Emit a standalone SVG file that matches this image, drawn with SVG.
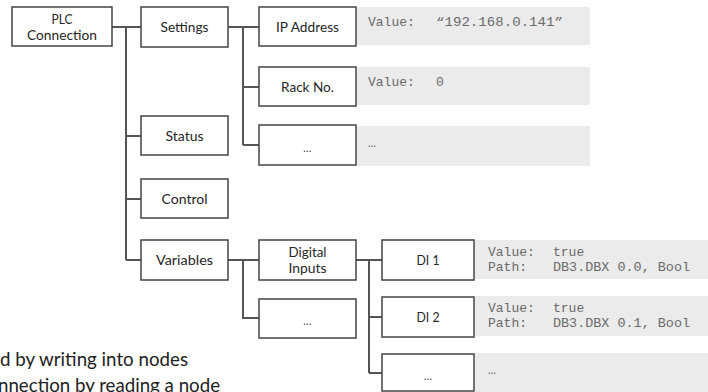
<svg xmlns="http://www.w3.org/2000/svg" width="708" height="392" viewBox="0 0 708 392">
<style>
.box{fill:#fff;stroke:#444;stroke-width:1.5}
.val{fill:#ebebeb}
.lbl{font-family:Lato,"Liberation Sans",sans-serif;font-size:14px;fill:#262626;text-anchor:middle}
.mono{font-family:"Liberation Mono","DejaVu Sans Mono",monospace;font-size:13px;fill:#6a6a6a}
.ell{font-family:Lato,"Liberation Sans",sans-serif;font-size:11px;fill:#444;text-anchor:middle}
.foot{font-family:Lato,"Liberation Sans",sans-serif;font-size:20px;fill:#222}
.conn{fill:none;stroke:#555;stroke-width:2}
</style>
<rect width="708" height="392" fill="#fff"/>
<g id="connectors" class="conn">
<path d="M112,27H141M126,27V260M126,136H141M126,199H141M126,260H141"/>
<path d="M228,27H259M243,27V145M243,87H259M243,145H259"/>
<path d="M228,260H259M243,260V318H259"/>
<path d="M356,260H382M369,260V373M369,317H382M369,373H382"/>
</g>
<g id="values">
<rect class="val" x="357" y="7" width="233" height="38"/>
<text class="mono" x="368" y="26">Value:</text><text class="mono" x="436" y="26" textLength="127" lengthAdjust="spacingAndGlyphs">“192.168.0.141”</text>
<rect class="val" x="357" y="67" width="233" height="38"/>
<text class="mono" x="368" y="86">Value:</text><text class="mono" x="436" y="86">0</text>
<rect class="val" x="357" y="126" width="233" height="40"/>
<text class="mono" x="368" y="147" font-size="9">…</text>
<rect class="val" x="475" y="240" width="233" height="39"/>
<text class="mono" x="488" y="256">Value:</text><text class="mono" x="553" y="256">true</text>
<text class="mono" x="488" y="271">Path:</text><text class="mono" x="553" y="271" textLength="137" lengthAdjust="spacingAndGlyphs">DB3.DBX 0.0, Bool</text>
<rect class="val" x="475" y="296" width="233" height="40"/>
<text class="mono" x="488" y="312">Value:</text><text class="mono" x="553" y="312">true</text>
<text class="mono" x="488" y="327">Path:</text><text class="mono" x="553" y="327" textLength="137" lengthAdjust="spacingAndGlyphs">DB3.DBX 0.1, Bool</text>
<rect class="val" x="475" y="353" width="233" height="40"/>
<text class="mono" x="488" y="374" font-size="9">…</text>
</g>
<g id="plc"><rect class="box" x="12" y="7" width="100" height="39"/><text class="lbl" x="62" y="24" textLength="21" lengthAdjust="spacingAndGlyphs">PLC</text><text class="lbl" x="62" y="40" textLength="70" lengthAdjust="spacingAndGlyphs">Connection</text></g>
<g id="settings"><rect class="box" x="141" y="7" width="87" height="40"/><text class="lbl" x="184.5" y="32" textLength="48" lengthAdjust="spacingAndGlyphs">Settings</text></g>
<g id="status"><rect class="box" x="141" y="116" width="87" height="39"/><text class="lbl" x="184.5" y="141" textLength="38" lengthAdjust="spacingAndGlyphs">Status</text></g>
<g id="control"><rect class="box" x="141" y="179" width="87" height="39"/><text class="lbl" x="184.5" y="204" textLength="46" lengthAdjust="spacingAndGlyphs">Control</text></g>
<g id="variables"><rect class="box" x="141" y="240" width="87" height="40"/><text class="lbl" x="184.5" y="265" textLength="57" lengthAdjust="spacingAndGlyphs">Variables</text></g>
<g id="ip"><rect class="box" x="259" y="7" width="97" height="39"/><text class="lbl" x="307.5" y="32" textLength="63" lengthAdjust="spacingAndGlyphs">IP Address</text></g>
<g id="rack"><rect class="box" x="259" y="67" width="97" height="39"/><text class="lbl" x="307.5" y="92" textLength="53" lengthAdjust="spacingAndGlyphs">Rack No.</text></g>
<g id="settings-more"><rect class="box" x="259" y="125" width="97" height="40"/><text class="ell" x="307.5" y="152">…</text></g>
<g id="digital"><rect class="box" x="259" y="240" width="97" height="40"/><text class="lbl" x="307.5" y="257" textLength="38" lengthAdjust="spacingAndGlyphs">Digital</text><text class="lbl" x="307.5" y="273" textLength="38" lengthAdjust="spacingAndGlyphs">Inputs</text></g>
<g id="variables-more"><rect class="box" x="259" y="299" width="97" height="39"/><text class="ell" x="307.5" y="325">…</text></g>
<g id="di1"><rect class="box" x="382" y="240" width="92" height="40"/><text class="lbl" x="428" y="265" textLength="23" lengthAdjust="spacingAndGlyphs">DI 1</text></g>
<g id="di2"><rect class="box" x="382" y="297" width="92" height="40"/><text class="lbl" x="428" y="322" textLength="23" lengthAdjust="spacingAndGlyphs">DI 2</text></g>
<g id="di-more"><rect class="box" x="382" y="354" width="92" height="37"/><text class="ell" x="428" y="380">…</text></g>
<g id="footer">
<text class="foot" x="0" y="366" textLength="188" lengthAdjust="spacingAndGlyphs">d by writing into nodes</text>
<text class="foot" x="-2" y="392" textLength="222" lengthAdjust="spacingAndGlyphs">nnection by reading a node</text>
</g>
</svg>
